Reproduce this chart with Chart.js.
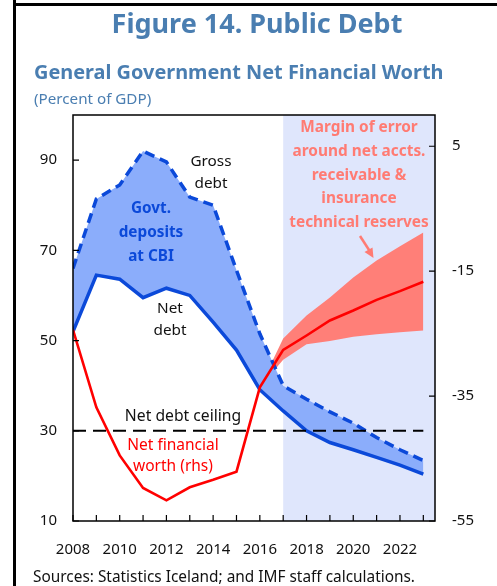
<!DOCTYPE html>
<html>
<head>
<meta charset="utf-8">
<script src="https://cdn.jsdelivr.net/npm/chart.js@4.4.1/dist/chart.umd.min.js"></script>
<style>
  html, body { margin: 0; padding: 0; background: #ffffff; }
  #wrap { position: relative; width: 497px; height: 586px; }
</style>
</head>
<body>
<div id="wrap"><canvas id="c" width="497" height="586"></canvas></div>
<script>
// ---- data ----
const years = [2008, 2009, 2010, 2011, 2012, 2013, 2014, 2015, 2016, 2017, 2018, 2019, 2020, 2021, 2022, 2023];
const grossDebt = [66, 81.4, 84.5, 92, 89.6, 81.8, 80, 65.6, 51.5, 40, 37, 34.2, 31.7, 28.5, 25.8, 23.4];
const netDebt = [52, 64.5, 63.6, 59.5, 61.6, 60, 54.1, 47.9, 39.1, 34.4, 30.0, 27.4, 25.8, 24.1, 22.4, 20.4];
const netWorth = [-24.4, -36.8, -44.5, -49.7, -51.7, -49.6, -48.4, -47.1, -33.6, -27.6, -25.3, -22.9, -21.3, -19.6, -18.2, -16.7];
const bandYears = [2016, 2017, 2018, 2019, 2020, 2021, 2022, 2023];
const bandUpper = [-33.6, -25.8, -22.1, -19.2, -16.0, -13.3, -11.0, -8.8];
const bandLower = [-33.6, -29.2, -26.7, -26.2, -25.5, -25.1, -24.8, -24.5];
const ceilingYears = [2008, 2023];
const ceilingValue = [30, 30];
const forecastStart = 2017;
const leftTicks = [10, 30, 50, 70, 90];
const rightTicks = [-55, -35, -15, 5];
const xLabelYears = [2008, 2010, 2012, 2014, 2016, 2018, 2020, 2022];

const pts = (xs, ys) => xs.map((x, i) => ({ x: x, y: ys[i] }));

const FONT = "'Noto Sans', sans-serif";
const BLUE = '#0b49d9';
const RED = '#ff0000';
const SALMON = '#ff7b73';

const decor = {
  id: 'decor',
  beforeDatasetsDraw(chart) {
    const { ctx, chartArea: a, scales } = chart;
    const xs = scales.x.getPixelForValue(forecastStart);
    ctx.save();
    ctx.fillStyle = '#dfe6fc';
    ctx.fillRect(xs, a.top, a.right - xs, a.bottom - a.top);
    ctx.restore();
  },
  afterDraw(chart) {
    const { ctx, chartArea: a, scales } = chart;
    ctx.save();
    // frame
    ctx.strokeStyle = '#000';
    ctx.lineWidth = 1.5;
    ctx.strokeRect(a.left, a.top, a.right - a.left, a.bottom - a.top);
    // inward ticks
    ctx.lineWidth = 1.2;
    ctx.beginPath();
    for (const yr of years) {
      const px = scales.x.getPixelForValue(yr);
      ctx.moveTo(px, a.bottom); ctx.lineTo(px, a.bottom - 6);
    }
    for (const v of leftTicks) {
      const py = scales.y.getPixelForValue(v);
      ctx.moveTo(a.left, py); ctx.lineTo(a.left + 6, py);
    }
    for (const v of rightTicks) {
      const py = scales.y1.getPixelForValue(v);
      ctx.moveTo(a.right, py); ctx.lineTo(a.right - 6, py);
    }
    ctx.stroke();

    // outer border lines
    ctx.fillStyle = '#000';
    ctx.fillRect(13, 0, 3, 586);
    ctx.fillRect(13, 3, 484, 3);

    // titles
    ctx.textAlign = 'center';
    ctx.textBaseline = 'middle';
    ctx.fillStyle = '#4a7eb1';
    ctx.font = "bold 27px " + FONT;
    ctx.fillText('Figure 14. Public Debt', 257, 25);
    ctx.textAlign = 'left';
    ctx.font = "bold 19.9px " + FONT;
    ctx.fillText('General Government Net Financial Worth', 34, 73);
    ctx.font = "15.2px " + FONT;
    ctx.fillText('(Percent of GDP)', 34, 100);

    // sources
    ctx.fillStyle = '#111';
    ctx.font = "15.4px " + FONT;
    ctx.fillText('Sources: Statistics Iceland; and IMF staff calculations.', 33, 578);

    // annotations
    ctx.textAlign = 'center';
    ctx.fillStyle = '#111';
    ctx.font = "15.3px " + FONT;
    ctx.fillText('Gross', 211, 162);
    ctx.fillText('debt', 211, 184);
    ctx.fillText('Net', 170, 309);
    ctx.fillText('debt', 170, 331);
    ctx.font = "15.7px " + FONT;
    ctx.fillText('Net debt ceiling', 183, 417);

    ctx.fillStyle = BLUE;
    ctx.font = "bold 15.3px " + FONT;
    ctx.fillText('Govt.', 151, 209);
    ctx.fillText('deposits', 151, 233);
    ctx.fillText('at CBI', 151, 257);

    ctx.fillStyle = RED;
    ctx.font = "15.5px " + FONT;
    ctx.fillText('Net financial', 173, 446);
    ctx.fillText('worth (rhs)', 173, 467);

    ctx.fillStyle = SALMON;
    ctx.font = "bold 15.4px " + FONT;
    const lines = ['Margin of error', 'around net accts.', 'receivable &', 'insurance', 'technical reserves'];
    lines.forEach((t, i) => ctx.fillText(t, 359, 128 + i * 23.7));

    // arrow
    ctx.strokeStyle = SALMON;
    ctx.lineWidth = 2.5;
    ctx.beginPath();
    ctx.moveTo(360, 236); ctx.lineTo(371, 253);
    ctx.stroke();
    ctx.beginPath();
    ctx.moveTo(373.5, 258); ctx.lineTo(364.5, 252); ctx.lineTo(372.5, 247.5);
    ctx.closePath();
    ctx.fillStyle = SALMON;
    ctx.fill();
    ctx.restore();
  }
};

new Chart(document.getElementById('c'), {
  type: 'line',
  data: {
    datasets: [
      { label: 'Net financial worth', data: pts(years, netWorth), yAxisID: 'y1', borderColor: RED, borderWidth: 2.6, fill: false, order: 0 },
      { label: 'Net debt ceiling', data: pts(ceilingYears, ceilingValue), yAxisID: 'y', borderColor: '#000', borderWidth: 2, borderDash: [13, 7], fill: false, order: 1 },
      { label: 'Net debt', data: pts(years, netDebt), yAxisID: 'y', borderColor: BLUE, borderWidth: 3.5, fill: false, order: 2 },
      { label: 'Gross debt', data: pts(years, grossDebt), yAxisID: 'y', borderColor: BLUE, borderWidth: 3.5, borderDash: [10, 6], fill: { target: 2 }, backgroundColor: '#8badfb', order: 3 },
      { label: 'Band upper', data: pts(bandYears, bandUpper), yAxisID: 'y1', borderWidth: 0, borderColor: 'rgba(0,0,0,0)', fill: { target: 5 }, backgroundColor: '#ff7f78', order: 4 },
      { label: 'Band lower', data: pts(bandYears, bandLower), yAxisID: 'y1', borderWidth: 0, borderColor: 'rgba(0,0,0,0)', fill: false, order: 5 }
    ]
  },
  options: {
    responsive: false,
    animation: false,
    devicePixelRatio: 1,
    layout: { padding: { top: 115, left: 0, right: 0, bottom: 0 } },
    elements: { point: { radius: 0, hoverRadius: 0 }, line: { tension: 0, borderCapStyle: 'butt', borderJoinStyle: 'miter' } },
    plugins: { legend: { display: false }, tooltip: { enabled: false } },
    scales: {
      x: {
        type: 'linear', min: 2008, max: 2023.5,
        grid: { display: false, drawTicks: false },
        border: { display: false },
        afterFit(s) { s.height = 65; },
        afterBuildTicks(s) { s.ticks = xLabelYears.map(v => ({ value: v })); },
        ticks: { padding: 20, maxRotation: 0, autoSkip: false, color: '#111', font: { family: FONT, size: 15 }, callback: v => String(v) }
      },
      y: {
        type: 'linear', position: 'left', min: 10, max: 100,
        grid: { display: false, drawTicks: false },
        border: { display: false },
        afterFit(s) { s.width = 73; },
        afterBuildTicks(s) { s.ticks = leftTicks.map(v => ({ value: v })); },
        ticks: { padding: 16, color: '#111', font: { family: FONT, size: 15 } }
      },
      y1: {
        type: 'linear', position: 'right', min: -55, max: 10,
        grid: { display: false, drawTicks: false },
        border: { display: false },
        afterFit(s) { s.width = 62; },
        afterBuildTicks(s) { s.ticks = rightTicks.map(v => ({ value: v })); },
        ticks: { padding: 17, color: '#111', font: { family: FONT, size: 15 } }
      }
    }
  },
  plugins: [decor]
});
</script>
</body>
</html>
